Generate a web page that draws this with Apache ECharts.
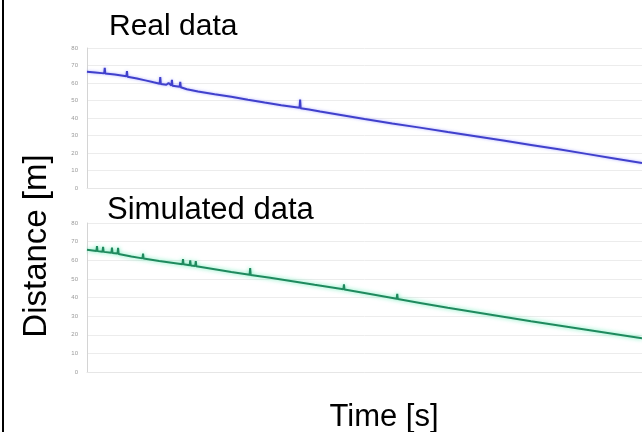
<!DOCTYPE html>
<html>
<head>
<meta charset="utf-8">
<script src="https://cdn.jsdelivr.net/npm/echarts@6/dist/echarts.min.js"></script>
<style>html,body{margin:0;padding:0;background:#fff}#c{width:642px;height:432px}</style>
</head>
<body>
<div id="c"></div>
<script>
// Tick labels for the distance axes
var yTicks = [0, 10, 20, 30, 40, 50, 60, 70, 80];

// Real data (time, distance)
var realTime = [0, 1.5, 3.1, 3.2, 3.3, 5.0, 6.5, 7.1, 7.2, 7.3, 9.0, 10.5, 12.0, 13.1, 13.2, 13.3, 14.3, 14.7, 15.2, 15.3, 15.4, 16.7, 16.8, 16.9, 18.0, 20, 23, 26, 29, 32, 35, 38.3, 38.4, 38.5, 40, 42, 46, 50, 55, 60, 65, 70, 75, 80, 85, 90, 95, 100];
var realDist = [66.4, 66.0, 65.5, 68.6, 65.4, 64.8, 64.2, 63.9, 66.8, 63.6, 62.6, 61.5, 60.4, 59.6, 63.4, 59.4, 59.0, 60.0, 58.6, 61.8, 58.4, 57.8, 60.6, 57.6, 56.4, 55.2, 53.6, 52.2, 50.4, 48.8, 47.3, 45.8, 50.5, 45.6, 44.9, 43.7, 41.6, 39.4, 36.9, 34.5, 32.0, 29.6, 27.1, 24.6, 22.1, 19.5, 16.9, 14.3];

// Simulated data (time, distance)
var simTime = [0, 1.7, 1.8, 1.9, 2.8, 2.9, 3.0, 4.4, 4.5, 4.6, 5.5, 5.6, 5.7, 8, 10.0, 10.1, 10.2, 13, 17.2, 17.3, 17.4, 18.5, 18.6, 18.7, 19.5, 19.6, 19.7, 23, 26, 29.3, 29.4, 29.5, 33, 37, 41, 46.2, 46.3, 46.4, 50, 55.8, 55.9, 56.0, 60, 65, 70, 75, 80, 85, 90, 95, 100];
var simDist = [65.6, 65.0, 67.6, 64.9, 64.6, 67.2, 64.5, 64.0, 66.8, 63.9, 63.6, 66.6, 63.4, 62.0, 61.0, 63.6, 60.9, 59.6, 57.9, 60.6, 57.8, 57.3, 60.0, 57.2, 56.9, 59.6, 56.8, 55.2, 53.7, 52.2, 55.8, 52.1, 50.6, 48.7, 46.8, 44.4, 47.0, 44.3, 42.4, 39.3, 41.9, 39.2, 37.1, 34.5, 32.1, 29.7, 27.3, 25.0, 22.7, 20.4, 18.1];

function pairs(t, v) { return t.map(function (x, i) { return [x, v[i]]; }); }

var font = '"Liberation Sans", Arial, sans-serif';

function yAxisFor(gi) {
  return {
    gridIndex: gi, type: 'value', min: yTicks[0], max: yTicks[yTicks.length - 1], interval: 10,
    axisLine: { show: true, lineStyle: { color: '#d4d4d4', width: 1 } },
    axisTick: { show: false },
    axisLabel: { fontSize: 6, color: '#9a9a9a', margin: 9, fontFamily: font },
    splitLine: { show: true, lineStyle: { color: '#ececec', width: 1 } }
  };
}
function xAxisFor(gi) {
  return {
    gridIndex: gi, type: 'value', min: 0, max: 100,
    axisLine: { show: true, lineStyle: { color: '#e6e6e6' } },
    axisTick: { show: false }, axisLabel: { show: false }, splitLine: { show: false }
  };
}

var chart = echarts.init(document.getElementById('c'), null, { renderer: 'canvas' });
chart.setOption({
  animation: false,
  backgroundColor: '#ffffff',
  title: [
    { text: 'Real data', left: 109, top: 12, padding: 0, textStyle: { fontSize: 30, fontWeight: 'normal', color: '#000', fontFamily: font } },
    { text: 'Simulated data', left: 107, top: 195, padding: 0, textStyle: { fontSize: 31, fontWeight: 'normal', color: '#000', fontFamily: font } },
    { text: 'Time [s]', left: 384, top: 402, padding: 0, textAlign: 'center', textStyle: { fontSize: 31, fontWeight: 'normal', color: '#000', fontFamily: font } }
  ],
  grid: [
    { left: 87, top: 48, width: 555, height: 140 },
    { left: 87, top: 223, width: 555, height: 149 }
  ],
  xAxis: [xAxisFor(0), xAxisFor(1)],
  yAxis: [yAxisFor(0), yAxisFor(1)],
  series: [
    {
      name: 'Real data', type: 'line', xAxisIndex: 0, yAxisIndex: 0, showSymbol: false, symbol: 'none',
      data: pairs(realTime, realDist),
      lineStyle: { color: '#4040cc', width: 2, shadowColor: 'rgba(120,120,255,0.6)', shadowBlur: 3 }
    },
    {
      name: 'Simulated data', type: 'line', xAxisIndex: 1, yAxisIndex: 1, showSymbol: false, symbol: 'none',
      data: pairs(simTime, simDist),
      lineStyle: { color: '#1f8a5e', width: 2, shadowColor: 'rgba(60,230,160,0.8)', shadowBlur: 4 }
    }
  ],
  graphic: [
    { type: 'rect', left: 2, top: 0, shape: { width: 2, height: 432 }, style: { fill: '#000' } },
    { type: 'text', x: 37, y: 246, rotation: Math.PI / 2,
      style: { text: 'Distance [m]', fontSize: 33, fontFamily: font, fill: '#000', align: 'center', verticalAlign: 'middle' } }
  ]
});
</script>
</body>
</html>
